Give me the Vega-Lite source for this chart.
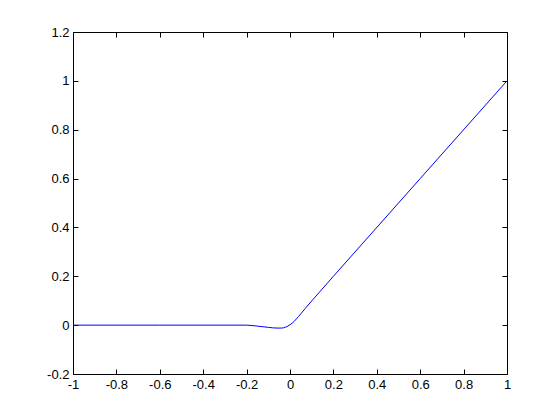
{
  "$schema": "https://vega.github.io/schema/vega-lite/v6.json",
  "autosize": "none",
  "width": 434,
  "height": 342,
  "padding": {"left": 73, "top": 32, "right": 53, "bottom": 46},
  "background": "white",
  "config": {
    "view": {"stroke": null},
    "axis": {
      "grid": false,
      "domainColor": "black",
      "domainWidth": 1,
      "tickColor": "black",
      "tickWidth": 1,
      "tickSize": -5,
      "labelColor": "black",
      "labelFont": "Liberation Sans",
      "labelFontSize": 13,
      "labelFlush": false,
      "labelOverlap": false,
      "title": null
    }
  },
  "data": {
    "values": [
      {"x": -1, "y": 0},
      {"x": -0.6, "y": 0},
      {"x": -0.2, "y": 0},
      {"x": -0.17, "y": -0.002},
      {"x": -0.15, "y": -0.004},
      {"x": -0.12, "y": -0.007},
      {"x": -0.1, "y": -0.009},
      {"x": -0.08, "y": -0.011},
      {"x": -0.06, "y": -0.012},
      {"x": -0.04, "y": -0.012},
      {"x": -0.03, "y": -0.011},
      {"x": -0.02, "y": -0.008},
      {"x": -0.01, "y": -0.004},
      {"x": 0, "y": 0.002},
      {"x": 0.01, "y": 0.008},
      {"x": 0.02, "y": 0.016},
      {"x": 0.03, "y": 0.026},
      {"x": 0.04, "y": 0.036},
      {"x": 0.05, "y": 0.047},
      {"x": 0.07, "y": 0.068},
      {"x": 0.1, "y": 0.099},
      {"x": 0.2, "y": 0.2},
      {"x": 0.6, "y": 0.6},
      {"x": 1, "y": 1}
    ]
  },
  "layer": [
    {
      "mark": {"type": "line", "color": "#0000ff", "strokeWidth": 1, "clip": true},
      "encoding": {
        "x": {
          "field": "x", "type": "quantitative",
          "scale": {"domain": [-1, 1], "nice": false, "zero": false},
          "axis": {"orient": "bottom", "values": [-1, -0.8, -0.6, -0.4, -0.2, 0, 0.2, 0.4, 0.6, 0.8, 1], "labelExpr": "'' + datum.value", "labelPadding": 9}
        },
        "y": {
          "field": "y", "type": "quantitative",
          "scale": {"domain": [-0.2, 1.2], "nice": false, "zero": false},
          "axis": {"orient": "left", "values": [-0.2, 0, 0.2, 0.4, 0.6, 0.8, 1, 1.2], "labelExpr": "'' + datum.value", "labelPadding": 9}
        }
      }
    },
    {
      "mark": {"type": "line", "opacity": 0},
      "encoding": {
        "x": {
          "field": "x", "type": "quantitative",
          "axis": {"orient": "top", "values": [-1, -0.8, -0.6, -0.4, -0.2, 0, 0.2, 0.4, 0.6, 0.8, 1], "labels": false}
        },
        "y": {
          "field": "y", "type": "quantitative",
          "axis": {"orient": "right", "values": [-0.2, 0, 0.2, 0.4, 0.6, 0.8, 1, 1.2], "labels": false}
        }
      }
    }
  ],
  "resolve": {"axis": {"x": "independent", "y": "independent"}}
}
